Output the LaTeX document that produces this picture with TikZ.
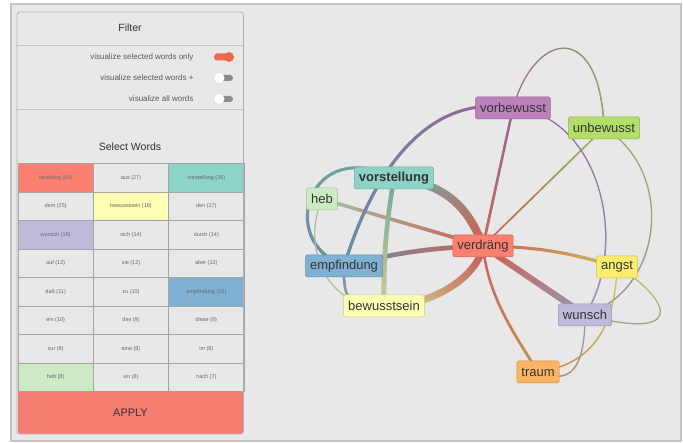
\documentclass[tikz,border=0pt]{standalone}
\usepackage{fontspec}
\setmainfont{Liberation Sans}
\usetikzlibrary{positioning,fadings}

\definecolor{cverdr}{HTML}{FB8072}
\definecolor{cvorst}{HTML}{8DD3C7}
\definecolor{cbewu}{HTML}{FFFFB3}
\definecolor{cwun}{HTML}{BEBADA}
\definecolor{cemp}{HTML}{80B1D3}
\definecolor{ctrau}{HTML}{FDB462}
\definecolor{cunb}{HTML}{B3DE69}
\definecolor{cvorb}{HTML}{BC80BD}
\definecolor{cheb}{HTML}{CCEBC5}
\definecolor{cang}{HTML}{FFED6F}
\definecolor{cellbg}{HTML}{E8E8E8}
\definecolor{framebg}{HTML}{E8E8E8}
\definecolor{frameline}{HTML}{C4C4C4}
\definecolor{gridline}{HTML}{A4A4A4}
\definecolor{applyred}{HTML}{F47C70}
\definecolor{togon}{HTML}{F26A50}
\definecolor{togoff}{HTML}{8C8C8C}
\definecolor{txt}{HTML}{333333}

\pgfdeclarelayer{bg}
\pgfdeclarelayer{edges}
\pgfsetlayers{bg,edges,main}

\tikzfading[name=tohead, left color=transparent!100, right color=transparent!0]

% edge with colour running from one word to the other
\newcommand{\gedge}[5]{%
  \draw[edge, line width=#1, #2!80!black] #5;
  \draw[edge, line width=#1, #3!80!black, path fading=tohead, fading angle=#4] #5;
}

\tikzset{
  word/.style={draw=#1!80!black, fill=#1, line width=0.5pt, rounded corners=1.5pt,
    text=txt, inner xsep=4.5pt, minimum height=22pt,
    font=\fontsize{13}{15}\selectfont},
  cell/.style={text=black!60, font=\fontsize{5.5}{6}\selectfont},
  label/.style={text=black!65, font=\fontsize{8}{9}\selectfont},
  heading/.style={text=txt, font=\fontsize{10.5}{12}\selectfont},
  edge/.style={line cap=round},
}

\begin{document}
\begin{tikzpicture}[x=1pt,y=-1pt]
\useasboundingbox (0,0) rectangle (683,443);

\begin{pgfonlayer}{bg}
  \fill[white] (0,0) rectangle (683,443);
  % outer frame and panel
  \draw[fill=framebg, draw=frameline, line width=1.2pt] (11,4) rectangle (681,441);
  \fill[cellbg, rounded corners=3pt] (17,12) rectangle (243.5,434);
  \draw[frameline] (17,45) -- (243.5,45);
  \draw[frameline] (17,109) -- (243.5,109);

  \node[heading] (filter) at (130,28) {Filter};
  \node[heading] (select) at (130,147) {Select Words};

  % toggles
  \node[label, anchor=east] (only) at (197,57) {visualize selected words only};
  \node[label, anchor=east] (plus) at (197,78) {visualize selected words +};
  \node[label, anchor=east] (all) at (197,99) {visualize all words};
  \fill[togon, rounded corners=3pt] (214,53.5) rectangle (232,60.5);
  \fill[togon!95!red] (229,57) circle (5pt);
  \fill[togoff, rounded corners=3pt] (217,75) rectangle (233,81);
  \fill[white] (219.5,78) circle (5pt);
  \fill[togoff, rounded corners=3pt] (217,96) rectangle (233,102);
  \fill[white] (219.5,99) circle (5pt);

  % word grid
  \foreach \w/\c [count=\i from 0] in {verdräng (84)/cverdr, aus (27)/cellbg, vorstellung (26)/cvorst,
      dem (25)/cellbg, bewusstsein (18)/cbewu, den (17)/cellbg,
      wunsch (16)/cwun, sich (14)/cellbg, durch (14)/cellbg,
      auf (12)/cellbg, sie (12)/cellbg, aber (12)/cellbg,
      daß (11)/cellbg, zu (10)/cellbg, empfindung (10)/cemp,
      ein (10)/cellbg, des (9)/cellbg, diese (9)/cellbg,
      zur (9)/cellbg, eine (8)/cellbg, im (8)/cellbg,
      heb (8)/cheb, wir (8)/cellbg, nach (7)/cellbg}{
    \pgfmathtruncatemacro{\col}{mod(\i,3)}
    \pgfmathtruncatemacro{\row}{int(\i/3)}
    \draw[fill=\c, draw=gridline, line width=0.6pt]
      (18+\col*75.33, 163.3+\row*28.55) rectangle ++(75.33,28.55);
    \node[cell] (cell\i) at (18+\col*75.33+37.67, 163.3+\row*28.55+14.3) {\w};
  }

  % apply button
  \fill[applyred] (18,391.7) -- (243.5,391.7) [rounded corners=3pt] -- (243.5,434) -- (18,434) [sharp corners] -- cycle;
  \node[heading, font=\fontsize{11}{12}\selectfont] (apply) at (130.5,412.5) {APPLY};
  \draw[frameline!90!black, rounded corners=3pt, line width=0.8pt] (17,12) rectangle (243.5,434);
\end{pgfonlayer}

% word nodes
\node[word=cvorb] (vorbewusst) at (513,108) {vorbewusst};
\node[word=cunb] (unbewusst) at (604,128) {unbewusst};
\node[word=cvorst, font=\fontsize{13}{15}\selectfont\bfseries] (vorstellung) at (394,178) {vorstellung};
\node[word=cheb] (heb) at (322,199) {heb};
\node[word=cverdr] (verdraeng) at (483,246) {verdräng};
\node[word=cemp] (empfindung) at (344,266) {empfindung};
\node[word=cbewu] (bewusstsein) at (384,306) {bewusstsein};
\node[word=cang] (angst) at (617,267) {angst};
\node[word=cwun] (wunsch) at (585,315) {wunsch};
\node[word=ctrau] (traum) at (538,372) {traum};

\begin{pgfonlayer}{edges}
  % edges to verdräng
  \gedge{8pt}{cvorst}{cverdr}{-37}{(vorstellung.center) .. controls +(50,5) and +(-15,-40) .. (verdraeng.center)}
  \gedge{3.5pt}{cheb}{cverdr}{-16}{(heb.center) -- (verdraeng.center)}
  \gedge{4.5pt}{cemp}{cverdr}{8}{(empfindung.center) to[bend left=6] (verdraeng.center)}
  \gedge{7pt}{cbewu}{cverdr}{31}{(bewusstsein.center) .. controls +(50,0) and +(-5,30) .. (verdraeng.center)}
  \gedge{6pt}{cverdr}{cwun}{-34}{(verdraeng.center) -- (wunsch.center)}
  \gedge{2.5pt}{cverdr}{ctrau}{-66}{(verdraeng.center) .. controls +(5,50) and +(-25,-40) .. (traum.center)}
  \gedge{3pt}{cverdr}{cang}{-9}{(verdraeng.center) to[bend left=8] (angst.center)}
  \gedge{2.5pt}{cvorb}{cverdr}{-102}{(vorbewusst.center) -- (verdraeng.center)}
  \gedge{1.5pt}{cunb}{cverdr}{-136}{(unbewusst.center) -- (verdraeng.center)}

  % left group
  \gedge{3pt}{cvorb}{cemp}{-137}{(vorbewusst.center) .. controls +(-73,-13) and +(36,-116) .. (empfindung.center)}
  \gedge{4.5pt}{cvorst}{cbewu}{-94}{(vorstellung.center) to[bend right=5] (bewusstsein.center)}
  \gedge{3pt}{cvorst}{cemp}{-120}{(vorstellung.center) .. controls +(-84,-43) and +(-69,-26) .. (empfindung.center)}
  \gedge{1.2pt}{cheb}{cbewu}{-60}{(heb.center) .. controls +(-22,51) and +(-54,4) .. (bewusstsein.center)}
  \gedge{2.5pt}{cemp}{cbewu}{-45}{(empfindung.center) .. controls +(0,30) and +(-40,0) .. (bewusstsein.center)}

  % right group
  \gedge{1.2pt}{cvorb}{cwun}{-71}{(vorbewusst.center) .. controls +(87,7) and +(45,-70) .. (wunsch.center)}
  \gedge{1.2pt}{cunb}{cwun}{-96}{(unbewusst.center) .. controls +(71,42) and +(80,-25) .. (wunsch.center)}
  \gedge{1.2pt}{cvorb}{cunb}{-12}{(vorbewusst.center) .. controls +(22,-78) and +(-4,-108) .. (unbewusst.center)}
  \gedge{1.2pt}{cang}{cwun}{-90}{(angst.center) .. controls +(43,23) and +(115,30) .. (wunsch.center)}
  \gedge{1.3pt}{cang}{ctrau}{-127}{(angst.center) .. controls +(-2,63) and +(52,-7) .. (traum.center)}
  \gedge{1.3pt}{cwun}{ctrau}{-130}{(wunsch.center) .. controls +(0,55) and +(32,13) .. (traum.center)}
\end{pgfonlayer}
\end{tikzpicture}
\end{document}
